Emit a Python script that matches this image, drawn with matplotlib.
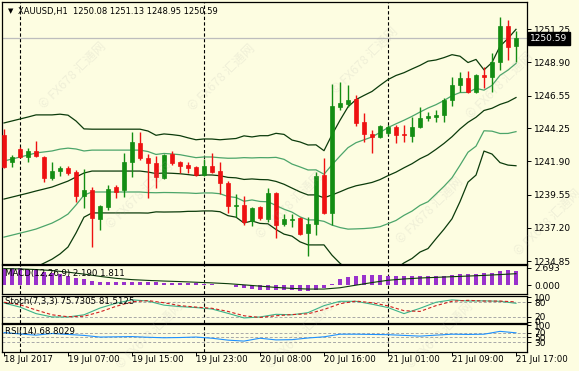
import matplotlib
matplotlib.use("Agg")
import matplotlib.pyplot as plt
import matplotlib.transforms as mtransforms
import numpy as np

# XAUUSD H1, 18 - 21 Jul 2017
opens = [1243.76, 1241.85, 1242.77, 1242.20, 1242.62, 1242.20, 1240.72, 1241.21, 1241.42, 1241.14,
         1239.44, 1239.87, 1237.82, 1238.67, 1240.08, 1239.87, 1241.85, 1243.19, 1242.13, 1241.78,
         1240.72, 1242.41, 1241.85, 1241.63, 1241.49, 1240.93, 1241.56, 1241.21, 1240.36, 1238.74,
         1238.81, 1237.68, 1238.67, 1237.82, 1239.65, 1237.46, 1237.78, 1237.89, 1236.83, 1237.46,
         1240.93, 1238.24, 1245.74, 1245.95, 1246.30, 1244.67, 1243.83, 1243.61, 1243.90, 1244.32,
         1243.83, 1243.69, 1244.32, 1244.96, 1245.03, 1245.17, 1246.23, 1247.29, 1247.79, 1246.80,
         1248.00, 1247.86, 1248.92, 1251.46, 1250.08]
highs = [1244.18, 1242.34, 1242.91, 1242.84, 1243.33, 1242.27, 1241.85, 1241.56, 1241.56, 1241.28,
         1241.35, 1240.08, 1238.81, 1240.22, 1240.22, 1242.48, 1243.97, 1243.97, 1242.41, 1242.27,
         1242.41, 1242.62, 1241.92, 1241.85, 1241.56, 1242.06, 1242.48, 1241.85, 1240.50, 1239.58,
         1239.44, 1238.67, 1238.74, 1240.01, 1239.73, 1238.17, 1238.17, 1237.96, 1237.96, 1241.14,
         1242.13, 1247.36, 1247.50, 1247.29, 1246.58, 1245.31, 1244.11, 1244.46, 1244.46, 1244.46,
         1244.46, 1245.03, 1245.74, 1245.38, 1245.52, 1246.37, 1247.86, 1248.21, 1248.28, 1248.07,
         1248.56, 1249.55, 1252.10, 1251.89, 1251.13]
lows = [1241.42, 1241.49, 1242.13, 1241.85, 1242.20, 1240.43, 1240.57, 1240.86, 1240.93, 1239.02,
        1238.59, 1235.84, 1237.04, 1238.45, 1239.30, 1239.37, 1240.79, 1241.99, 1239.30, 1240.01,
        1240.64, 1241.63, 1241.07, 1241.07, 1240.86, 1240.86, 1241.07, 1239.58, 1238.24, 1237.96,
        1237.39, 1237.32, 1237.75, 1237.60, 1236.47, 1237.32, 1237.25, 1236.69, 1235.20, 1236.69,
        1238.17, 1237.39, 1245.52, 1245.74, 1244.39, 1243.26, 1242.48, 1243.54, 1243.76, 1243.19,
        1243.26, 1243.26, 1244.25, 1244.75, 1244.67, 1244.67, 1245.81, 1246.80, 1246.73, 1246.73,
        1247.08, 1246.80, 1248.35, 1249.06, 1248.95]
closes = [1241.49, 1242.20, 1242.20, 1242.62, 1242.27, 1240.72, 1241.21, 1241.42, 1241.07, 1239.44,
          1239.87, 1237.89, 1238.74, 1239.94, 1239.73, 1241.85, 1243.26, 1242.13, 1241.78, 1240.79,
          1242.34, 1241.78, 1241.56, 1241.42, 1240.93, 1241.56, 1241.14, 1240.36, 1238.74, 1238.81,
          1237.60, 1238.59, 1237.89, 1239.65, 1237.39, 1237.82, 1237.84, 1236.76, 1237.46, 1240.86,
          1238.24, 1245.81, 1246.02, 1246.23, 1244.60, 1243.83, 1243.61, 1244.39, 1244.32, 1243.76,
          1243.76, 1244.32, 1244.96, 1245.10, 1245.17, 1246.23, 1247.29, 1247.79, 1246.80, 1248.00,
          1247.86, 1248.92, 1251.46, 1249.98, 1250.59]

# bollinger(20) for the first 19 bars (history before the window is not visible)
bb_mid_early = [1239.23, 1239.37, 1239.51, 1239.65, 1239.80, 1239.94, 1240.08, 1240.29, 1240.50, 1240.79,
                1241.07, 1241.21, 1241.21, 1241.21, 1241.21, 1241.21, 1241.21, 1241.21, 1241.14]
bb_sd_early = [2.69, 2.69, 2.69, 2.69, 2.69, 2.62, 2.55, 2.47, 2.33, 1.98,
               1.56, 1.48, 1.48, 1.48, 1.48, 1.48, 1.48, 1.48, 1.45]

macd_hist = [2.69, 2.69, 2.62, 2.45, 2.38, 2.15, 1.95, 1.70, 1.40, 1.20, 1.00, 0.75,
             0.55, 0.50, 0.48, 0.46, 0.50, 0.52, 0.50, 0.46, 0.44, 0.42, 0.40, 0.38, 0.35, 0.30,
             0.25, 0.15, 0.00, -0.25, -0.45, -0.55, -0.65, -0.70, -0.75, -0.75, -0.75, -0.78, -0.80, -0.65,
             -0.45, 0.25, 0.95, 1.25, 1.45, 1.55, 1.55, 1.55, 1.50, 1.48, 1.45, 1.45, 1.45, 1.45, 1.45,
             1.50, 1.60, 1.70, 1.75, 1.80, 1.85, 1.95, 2.30, 2.35, 2.19]
# indicator lines read every second bar
ind_idx = list(range(0, 65, 2))
macd_signal = [2.60, 2.55, 2.45, 2.30, 2.05, 1.75, 1.40, 1.10, 0.90, 0.78, 0.68, 0.60, 0.50, 0.40, 0.28, 0.10,
               -0.10, -0.30, -0.45, -0.55, -0.55, -0.35, 0.05, 0.45, 0.80, 1.00, 1.15, 1.25, 1.35, 1.45,
               1.55, 1.68, 1.811]
stoch_k = [77, 60, 33, 19, 19, 28, 56, 76, 90, 85, 68, 62, 58, 52, 34, 15, 19, 30, 28, 37, 66, 84, 84,
           72, 58, 33, 55, 80, 90, 85, 86, 84, 75.7305]
stoch_d = [80, 70, 48, 28, 20, 22, 40, 63, 82, 87, 78, 66, 60, 55, 42, 24, 17, 24, 29, 32, 50, 74, 85,
           78, 65, 45, 42, 66, 84, 88, 85, 85, 81.5125]
rsi = [70, 64, 59, 66, 62, 58, 51, 52, 53, 50, 48, 49, 51, 46, 38, 34, 46, 39, 40, 47, 52, 63, 63,
       62, 61, 58, 55, 59, 63, 62, 63, 75, 68.8029]

time_tick_idx = [0, 8, 16, 24, 32, 40, 48, 56, 64]
time_tick_labels = ['18 Jul 2017', '19 Jul 07:00', '19 Jul 15:00', '19 Jul 23:00', '20 Jul 08:00',
                    '20 Jul 16:00', '21 Jul 01:00', '21 Jul 09:00', '21 Jul 17:00']
day_start_idx = [2, 25, 48]
price_ticks = [1251.25, 1248.90, 1246.55, 1244.25, 1241.90, 1239.55, 1237.20, 1234.85]

BG = '#FDFDE1'
BULL = '#138D13'
BEAR = '#EE1111'
DARK = '#0B3B0B'
LIGHT = '#4CA56A'
W, H = 579, 371
n = len(closes)
x = np.arange(n)

plt.rcParams['font.family'] = ['DejaVu Sans']
fig = plt.figure(figsize=(W / 100, H / 100), dpi=100)
fig.patch.set_facecolor(BG)


def panel(y0, y1, x0=2, x1=527):
    ax = fig.add_axes([x0 / W, 1 - y1 / H, (x1 - x0) / W, (y1 - y0) / H])
    ax.set_facecolor(BG)
    for s in ax.spines.values():
        s.set_linewidth(0.9)
        s.set_color('black')
    ax.set_xlim(-0.25, 65.375)
    ax.yaxis.tick_right()
    ax.tick_params(axis='y', length=3, width=0.7, pad=2, labelsize=6.5, colors='black')
    ax.tick_params(axis='x', bottom=False, labelbottom=False)
    for d in day_start_idx:
        ax.axvline(d, color='black', lw=0.8, ls=(0, (3, 2)), zorder=1)
    return ax


# faint site watermarks (behind everything)
wm_font = ['Noto Sans CJK SC', 'DejaVu Sans']
for wx, wy in [(73, 75), (222, 77), (365, 60), (500, 85), (140, 195), (290, 205), (430, 210),
               (548, 222), (150, 335), (300, 335), (440, 335)]:
    fig.text(wx / W, 1 - wy / H, '\u00a9 FX678 \u6c47\u901a\u7f51', family=wm_font, fontsize=9,
             rotation=45, color='#A8A8A8', alpha=0.16, ha='center', va='center', zorder=20)

# ---- main price panel ----
ax = panel(2, 264)
ax.set_ylim(1234.64, 1253.16)
ax.set_yticks(price_ticks)
ax.set_yticklabels([f'{p:.2f}' for p in price_ticks])

mid = np.array(bb_mid_early + [np.mean(closes[i - 19:i + 1]) for i in range(19, n)])
sd = np.array(bb_sd_early + [np.std(closes[i - 19:i + 1]) for i in range(19, n)])
ax.plot(x, mid, color=DARK, lw=0.9, zorder=2)
ax.plot(x, mid + 2 * sd, color=DARK, lw=0.9, zorder=2)
ax.plot(x, mid - 2 * sd, color=DARK, lw=0.9, zorder=2)
ax.plot(x, mid + sd, color=LIGHT, lw=0.9, zorder=2)
ax.plot(x, mid - sd, color=LIGHT, lw=0.9, zorder=2)

ax.axhline(closes[-1], color='#BDBDBD', lw=0.9, zorder=1)

o, h, l, c = map(np.array, (opens, highs, lows, closes))
cols = np.where(c >= o, BULL, BEAR)
ax.vlines(x, l, h, colors=cols, lw=1.0, zorder=3)
body = np.maximum(np.abs(c - o), 0.04)
ax.bar(x, body, bottom=np.minimum(o, c), width=0.62, color=cols, edgecolor=cols, lw=0.5, zorder=4)

trans = mtransforms.blended_transform_factory(ax.transAxes, ax.transData)
ax.text(1.006, closes[-1], f'{closes[-1]:.2f}', transform=trans, color='white', fontsize=6.5,
        va='center', ha='left', zorder=10,
        bbox=dict(boxstyle='square,pad=0.25', fc='black', ec='black'))

ax.text(0.012, 0.965, '\u25bc', transform=ax.transAxes, fontsize=5, va='center', ha='left')
ax.text(0.03, 0.965, f'XAUUSD,H1  {opens[-1]:.2f} {highs[-1]:.2f} {lows[-1]:.2f} {closes[-1]:.2f}',
        transform=ax.transAxes, fontsize=6.0, va='center', ha='left')

# ---- MACD ----
ax2 = panel(265, 294)
ax2.set_ylim(-1.31, 3.15)
ax2.bar(x, macd_hist, width=0.62, color='#9932CC', zorder=2)
ax2.plot(ind_idx, macd_signal, color=DARK, lw=0.8, zorder=3)
ax2.set_yticks([2.693, 0.0])
ax2.set_yticklabels(['2.693', '0.000'])
ax2.text(0.005, 0.7, f'MACD(12,26,9) {macd_hist[-1]:.3f} {macd_signal[-1]:.3f}', transform=ax2.transAxes,
         fontsize=6.2, va='center', ha='left', zorder=5)

# ---- Stochastic ----
ax3 = panel(296, 323)
ax3.set_ylim(-6, 106)
for lv in (80, 20):
    ax3.axhline(lv, color='#A8A8A8', lw=0.7, ls=(0, (3, 2)))
ax3.plot(ind_idx, stoch_k, color='#3CB38A', lw=0.8, zorder=3)
ax3.plot(ind_idx, stoch_d, color='#D02020', lw=0.8, ls=(0, (3, 2)), zorder=3)
ax3.set_yticks([100, 80, 20, 0])
ax3.set_yticklabels(['100', '80', '20', '0'])
ax3.text(0.005, 0.78, f'Stoch(7,3,3) {stoch_k[-1]:.4f} {stoch_d[-1]:.4f}', transform=ax3.transAxes,
         fontsize=6.2, va='center', ha='left', zorder=5)

# ---- RSI ----
ax4 = panel(324, 352)
ax4.set_ylim(-12, 106)
for lv in (70, 50, 30):
    ax4.axhline(lv, color='#A8A8A8', lw=0.7, ls=(0, (3, 2)))
ax4.plot(ind_idx, rsi, color='#1E90FF', lw=0.8, zorder=3)
ax4.set_yticks([100, 70, 50, 30])
ax4.set_yticklabels(['100', '70', '50', '30'])
ax4.text(0.005, 0.72, f'RSI(14) {rsi[-1]:.4f}', transform=ax4.transAxes,
         fontsize=6.2, va='center', ha='left', zorder=5)

ax4.tick_params(axis='x', bottom=True, labelbottom=True, length=3, width=0.7, pad=-0.5, labelsize=6.2)
ax4.set_xticks(time_tick_idx)
ax4.set_xticklabels(time_tick_labels, ha='left')

fig.savefig('out.png', dpi=100, facecolor=BG)
